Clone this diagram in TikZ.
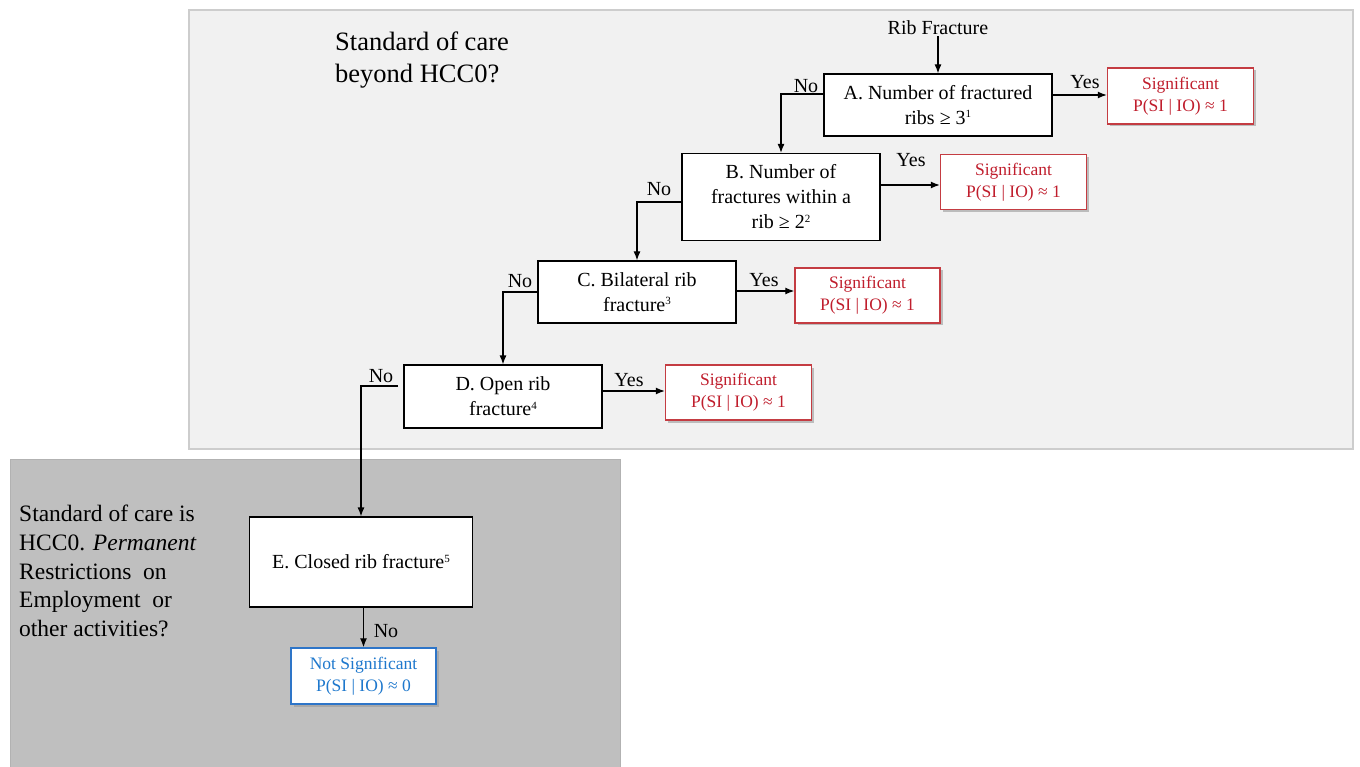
\documentclass[tikz,border=0pt]{standalone}
\usepackage{fontspec}
\setmainfont{Liberation Serif}
\usetikzlibrary{arrows.meta,shadows}
\definecolor{sigred}{RGB}{192,30,45}
\definecolor{sigborder}{RGB}{196,60,66}
\definecolor{nsblue}{RGB}{30,120,205}
\definecolor{nsborder}{RGB}{46,117,200}
\definecolor{panelA}{RGB}{241,241,241}
\definecolor{panelAb}{RGB}{205,205,205}
\definecolor{panelB}{RGB}{191,191,191}
\definecolor{panelBb}{RGB}{178,178,178}
\newcommand{\supnum}[1]{\raisebox{6.5pt}{\fontsize{11}{11}\selectfont #1}}
\begin{document}
\begin{tikzpicture}[x=1pt,y=-1pt,
  every node/.style={font=\fontsize{20}{25}\selectfont},
  qbox/.style={draw=black, line width=1.2pt, fill=white, align=center, inner sep=2pt},
  outbox/.style={line width=1.5pt, fill=white, align=center, minimum width=146pt, minimum height=56pt, inner sep=1pt,
    font=\fontsize{17.5}{22}\selectfont,
    drop shadow={shadow xshift=2.5pt, shadow yshift=-2.5pt, fill=black!40, opacity=0.6}},
  sigbox/.style={outbox, draw=sigborder, text=sigred},
  nsbox/.style={outbox, draw=nsborder, text=nsblue},
  conn/.style={line width=1.2pt, draw=black},
  arr/.style={conn, -{Latex[length=9pt,width=7pt]}},
  lbl/.style={inner sep=0pt, font=\fontsize{20}{24}\selectfont}
]
\useasboundingbox (0,0) rectangle (1360,767);
% panels
\fill[panelA, draw=panelAb, line width=1.2pt] (189,10) rectangle (1353,449);
\fill[panelB, draw=panelBb, line width=1pt] (10,459) rectangle (620,770);

% panel texts
\node[anchor=north west, align=left, inner sep=0pt, font=\fontsize{26.5}{32}\selectfont] (t1) at (335,32) {Standard of care\\beyond HCC0?};
\node[anchor=north west, align=left, inner sep=0pt, font=\fontsize{23.5}{28.7}\selectfont] (t2) at (19,505)
  {Standard of care is\\HCC0. \textit{Permanent}\\Restrictions\ \ on\\Employment\ \ or\\other activities?};

% start
\node[inner sep=1pt] (rf) at (938,28) {Rib Fracture};

% question boxes
\node[qbox, minimum width=228pt, minimum height=62pt] (A) at (938,105) {A. Number of fractured\\ribs ≥ 3\supnum{1}};
\node[qbox, minimum width=198pt, minimum height=87pt] (B) at (781,197) {B. Number of\\fractures within a\\rib ≥ 2\supnum{2}};
\node[qbox, minimum width=198pt, minimum height=62pt] (C) at (637,292) {C. Bilateral rib\\fracture\supnum{3}};
\node[qbox, minimum width=198pt, minimum height=63pt] (D) at (503,396.5) {D. Open rib\\fracture\supnum{4}};
\node[qbox, minimum width=223pt, minimum height=90pt] (E) at (361,562) {E. Closed rib fracture\supnum{5}};

% outcome boxes
\node[sigbox] (S1) at (1180.5,96) {Significant\\P(SI | IO) ≈ 1};
\node[sigbox, minimum height=55pt] (S2) at (1013.5,182) {Significant\\P(SI | IO) ≈ 1};
\node[sigbox, minimum width=145pt, minimum height=55pt] (S3) at (867.5,295.5) {Significant\\P(SI | IO) ≈ 1};
\node[sigbox, minimum height=55pt] (S4) at (738.5,392.5) {Significant\\P(SI | IO) ≈ 1};
\node[nsbox, minimum width=145pt] (N1) at (363.5,676) {Not Significant\\P(SI | IO) ≈ 0};

% connector anchor points
\coordinate (ay) at (1052,95);
\coordinate (by) at (880,185);
\coordinate (cy) at (736,291);
\coordinate (dy) at (602,391);
\coordinate (an) at (824,94);
\coordinate (bn) at (682,202);
\coordinate (cn) at (538,292);
\coordinate (dn) at (398,386);

% connectors
\draw[arr] (rf.south) -- (A.north);
\draw[arr] (ay) -- (ay -| S1.west);
\draw[arr] (by) -- (by -| S2.west);
\draw[arr] (cy) -- (cy -| S3.west);
\draw[arr] (dy) -- (dy -| S4.west);
\draw[arr] (an) -| (B.north);
\draw[arr] (bn) -| (C.north);
\draw[arr] (cn) -| (D.north);
\draw[arr] (dn) -| (E.north);
\draw[arr] (N1.north |- E.south) -- (N1.north);

% labels
\node[lbl] (yA) at (1085,82) {Yes};
\node[lbl] (yB) at (911,160) {Yes};
\node[lbl] (yC) at (764,280) {Yes};
\node[lbl] (yD) at (629,380) {Yes};
\node[lbl] (nA) at (806,86) {No};
\node[lbl] (nB) at (659,189) {No};
\node[lbl] (nC) at (520,281) {No};
\node[lbl] (nD) at (381,376) {No};
\node[lbl] (nE) at (386,631) {No};
\end{tikzpicture}
\end{document}
